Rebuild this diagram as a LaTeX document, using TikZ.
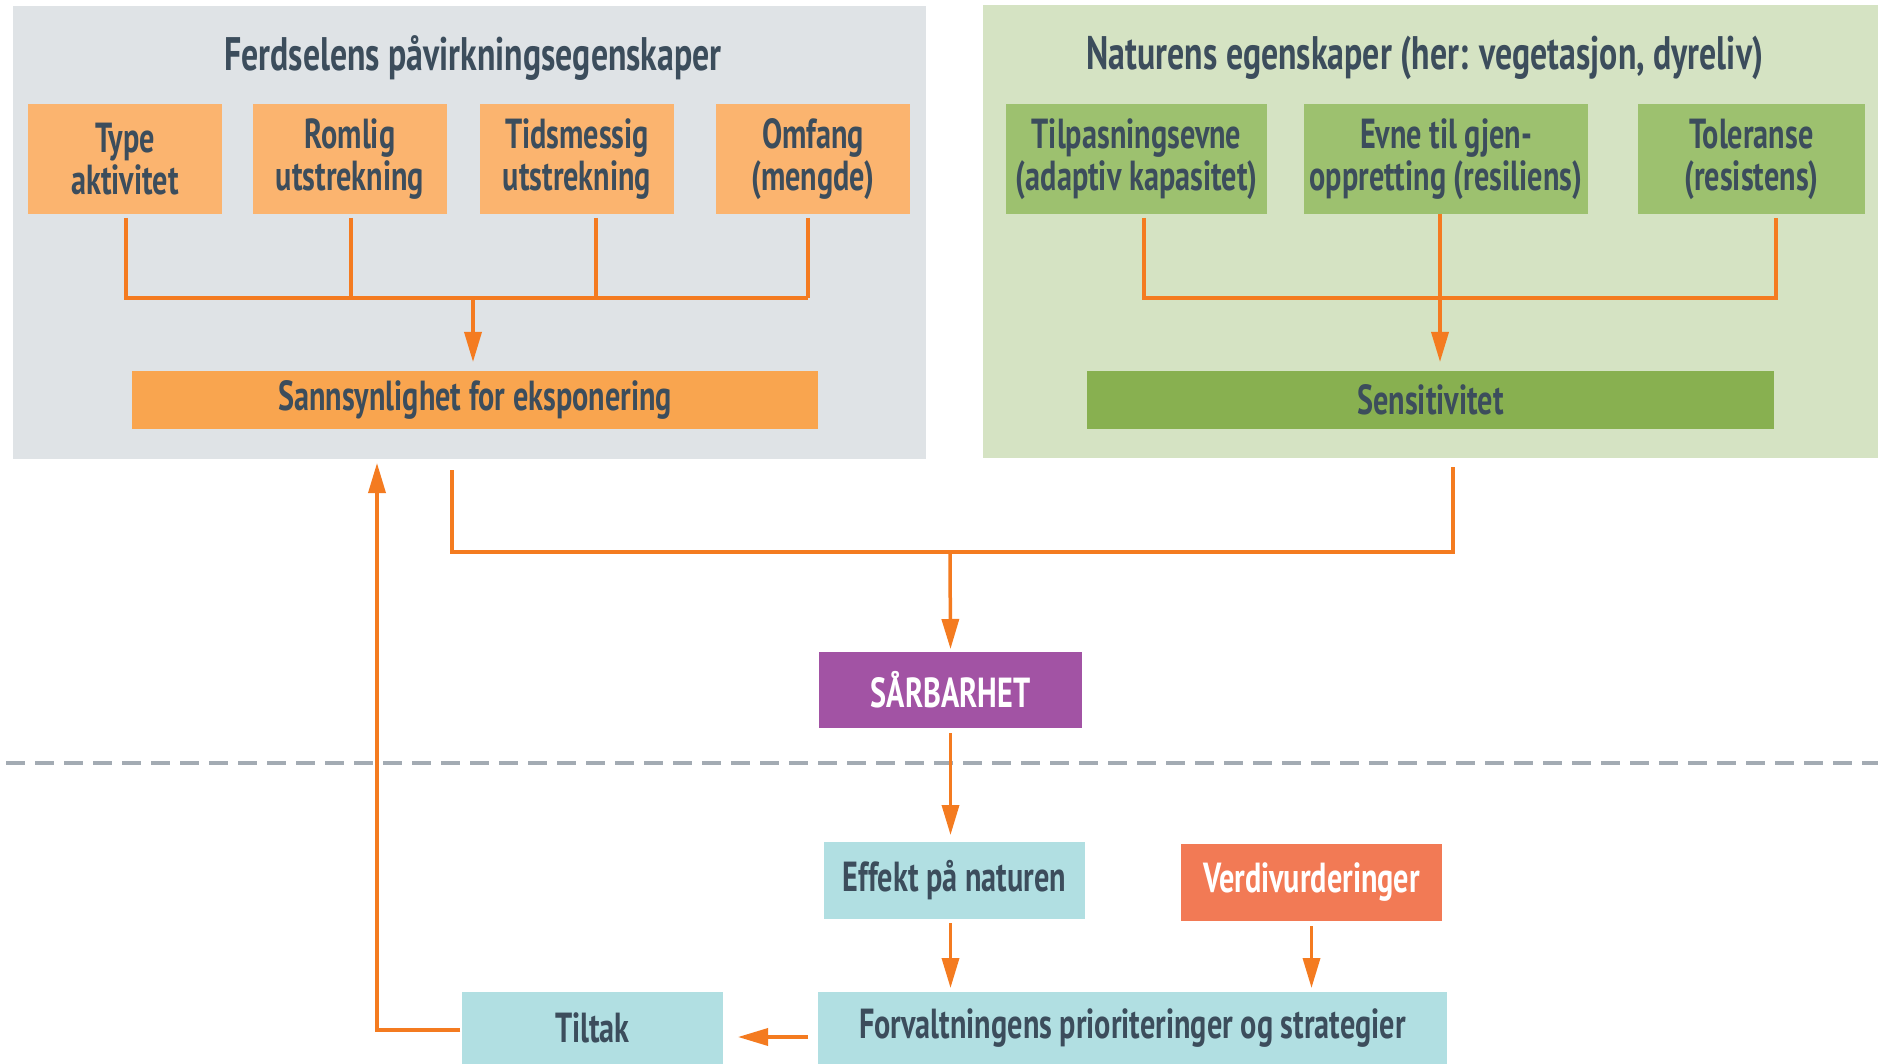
\documentclass[tikz,border=0pt]{standalone}
\usepackage{fontspec}
\setmainfont[FakeStretch=0.72]{PT Sans}
\usetikzlibrary{arrows.meta}
\definecolor{txt}{HTML}{3C4D5C}
\definecolor{panelgray}{HTML}{DFE3E6}
\definecolor{panelgreen}{HTML}{D5E3C3}
\definecolor{lorange}{HTML}{FBB46F}
\definecolor{dorange}{HTML}{F9A54F}
\definecolor{lgreen}{HTML}{9DC16F}
\definecolor{dgreen}{HTML}{88B050}
\definecolor{purp}{HTML}{A253A4}
\definecolor{cyanbox}{HTML}{B1DFE2}
\definecolor{salmon}{HTML}{F27A55}
\definecolor{lineor}{HTML}{F47B20}
\definecolor{dashgray}{HTML}{A3ABB3}
\tikzset{
  box/.style={anchor=north west, inner sep=0pt, outer sep=0pt, align=center,
    text=txt, font=\bfseries\fontsize{42}{42}\selectfont},
  paneltitle/.style={inner sep=0pt, text=txt, font=\bfseries\fontsize{47}{52}\selectfont},
  conn/.style={draw=lineor, line width=3.5pt},
  arr/.style={conn, -{Triangle[length=30pt,width=17pt]}},
}
\begin{document}
\begin{tikzpicture}[x=1pt,y=-1pt]
\useasboundingbox (0,0) rectangle (1878,1064);
\fill[white] (0,0) rectangle (1878,1064);
% panels
\node[box, fill=panelgray, minimum width=913pt, minimum height=453pt] (lpanel) at (13,6) {};
\node[box, fill=panelgreen, minimum width=895pt, minimum height=453pt] (rpanel) at (983,5) {};
\node[paneltitle] (ltitle) at (473,58) {Ferdselens påvirkningsegenskaper};
\node[paneltitle] (rtitle) at (1425,58) {Naturens egenskaper (her: vegetasjon, dyreliv)};
% left boxes
\node[box, fill=lorange, minimum width=194pt, minimum height=110pt] (type) at (28,104) {Type\\aktivitet};
\node[box, fill=lorange, minimum width=194pt, minimum height=110pt] (romlig) at (253,104) {Romlig\\utstrekning};
\node[box, fill=lorange, minimum width=194pt, minimum height=110pt] (tids) at (480,104) {Tidsmessig\\utstrekning};
\node[box, fill=lorange, minimum width=194pt, minimum height=110pt] (omfang) at (716,104) {Omfang\\(mengde)};
\node[box, fill=dorange, minimum width=686pt, minimum height=58pt] (sann) at (132,371) {Sannsynlighet for eksponering};
% right boxes
\node[box, fill=lgreen, minimum width=261pt, minimum height=110pt] (tilp) at (1006,104) {Tilpasningsevne\\(adaptiv kapasitet)};
\node[box, fill=lgreen, minimum width=284pt, minimum height=110pt] (evne) at (1304,104) {Evne til gjen-\\oppretting (resiliens)};
\node[box, fill=lgreen, minimum width=227pt, minimum height=110pt] (toler) at (1638,104) {Toleranse\\(resistens)};
\node[box, fill=dgreen, minimum width=687pt, minimum height=58pt] (sens) at (1087,371) {Sensitivitet};
% lower boxes
\node[box, fill=purp, text=white, minimum width=263pt, minimum height=76pt] (sarb) at (819,652) {SÅRBARHET};
\node[box, fill=cyanbox, minimum width=261pt, minimum height=77pt] (effekt) at (824,842) {Effekt på naturen};
\node[box, fill=salmon, text=white, minimum width=261pt, minimum height=77pt] (verdi) at (1181,844) {Verdivurderinger};
\node[box, fill=cyanbox, minimum width=629pt, minimum height=72pt] (forv) at (818,992) {Forvaltningens prioriteringer og strategier};
\node[box, fill=cyanbox, minimum width=261pt, minimum height=72pt] (tiltak) at (462,992) {Tiltak};
% dashed separator
\coordinate (dl) at (6,763);
\coordinate (dr) at (1878,763);
\draw[dashgray, line width=3.5pt, dash pattern=on 19pt off 10pt] (dl) -- (dr);
% left connectors
\coordinate (lj) at (473,298);
\draw[conn] (126,218) |- (808,298);
\draw[conn] (808,218) -- (808,298);
\draw[conn] (351,218) -- (351,298);
\draw[conn] (596,218) -- (596,298);
\draw[arr] (lj) -- ([yshift=9pt]sann.north -| lj);
% right connectors
\coordinate (rj) at (1440,298);
\draw[conn] (1144,218) |- (1776,298) -- (1776,218);
\draw[arr] (1440,214) -- ([yshift=9pt]sens.north -| rj);
% to SÅRBARHET
\coordinate (bj) at (950,552);
\draw[conn] (452,470) |- (1453,552) -- (1453,467);
\draw[arr] (bj) -- ([yshift=3pt]sarb.north);
\draw[arr] ([yshift=-5pt]sarb.south) -- ([yshift=7pt]effekt.north -| sarb.south);
\draw[arr] ([yshift=-4pt]effekt.south -| sarb.south) -- ([yshift=4pt]forv.north -| sarb.south);
\draw[arr] ([yshift=-5pt]verdi.south) -- ([yshift=4pt]forv.north -| verdi.south);
\coordinate (fl) at (808,1037);
\draw[arr] (fl) -- (738,1037);
\coordinate (tl) at (377,1030);
\draw[arr] ([xshift=-2pt]tiltak.west |- tl) -- (tl) -- (377,463);
\end{tikzpicture}
\end{document}
